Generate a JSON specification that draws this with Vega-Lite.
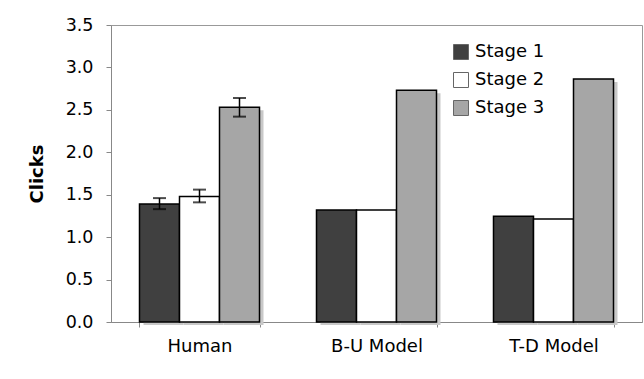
{
  "$schema": "https://vega.github.io/schema/vega-lite/v6.json",
  "width": 531,
  "height": 297,
  "autosize": {"type": "none"},
  "padding": {"left": 111, "top": 25, "right": 2, "bottom": 57},
  "background": "white",
  "config": {
    "font": "DejaVu Sans",
    "view": {"stroke": "#999", "strokeWidth": 1},
    "axis": {"labelColor": "black", "titleColor": "black", "domainColor": "#888", "tickColor": "#888", "grid": false}
  },
  "data": {
    "values": [
      {"group": "Human", "stage": "Stage 1", "value": 1.39, "lo": 1.33, "hi": 1.46},
      {"group": "Human", "stage": "Stage 2", "value": 1.48, "lo": 1.41, "hi": 1.56},
      {"group": "Human", "stage": "Stage 3", "value": 2.53, "lo": 2.42, "hi": 2.64},
      {"group": "B-U Model", "stage": "Stage 1", "value": 1.32},
      {"group": "B-U Model", "stage": "Stage 2", "value": 1.32},
      {"group": "B-U Model", "stage": "Stage 3", "value": 2.73},
      {"group": "T-D Model", "stage": "Stage 1", "value": 1.245},
      {"group": "T-D Model", "stage": "Stage 2", "value": 1.215},
      {"group": "T-D Model", "stage": "Stage 3", "value": 2.865}
    ]
  },
  "resolve": {"scale": {"xOffset": "independent"}},
  "encoding": {
    "x": {
      "field": "group", "type": "nominal", "sort": ["Human", "B-U Model", "T-D Model"],
      "scale": {"paddingInner": 0.322, "paddingOuter": 0.161},
      "axis": {"title": null, "labelAngle": 0, "labelFontSize": 18, "labelPadding": 10, "tickSize": 5, "tickBand": "extent", "domainColor": "#888"}
    }
  },
  "layer": [
    {
      "mark": {"type": "bar", "color": "#c8c8c8", "yOffset": 3},
      "encoding": {
        "xOffset": {"field": "stage", "type": "nominal", "scale": {"domain": ["Stage 1", "Stage 2", "Stage 3"], "range": [4, 124], "paddingInner": 0, "paddingOuter": 0}},
        "y": {"field": "value", "type": "quantitative"}
      }
    },
    {
      "layer": [
        {
          "mark": {"type": "bar", "stroke": "black", "strokeWidth": 1.5},
          "encoding": {
            "y": {
              "field": "value", "type": "quantitative",
              "scale": {"domain": [0, 3.5], "nice": false},
              "axis": {"title": "Clicks", "titleFontSize": 18, "titleFontWeight": "bold", "titlePadding": 19, "values": [0, 0.5, 1, 1.5, 2, 2.5, 3, 3.5], "format": ".1f", "labelFontSize": 17.5, "labelPadding": 13, "tickSize": 5}
            },
            "color": {
              "field": "stage", "type": "nominal",
              "scale": {"domain": ["Stage 1", "Stage 2", "Stage 3"], "range": ["#404040", "#ffffff", "#a6a6a6"]},
              "legend": {
                "title": null, "orient": "none", "legendX": 341, "legendY": 18,
                "symbolType": "square", "symbolSize": 225, "symbolStrokeColor": "#666", "symbolStrokeWidth": 1,
                "symbolOpacity": 1, "labelFontSize": 18, "labelColor": "black", "labelOffset": 5, "rowPadding": 8
              }
            }
          }
        },
        {
          "transform": [{"filter": "isValid(datum.lo)"}],
          "mark": {"type": "rule", "color": "black", "strokeWidth": 1.5},
          "encoding": {
            "y": {"field": "lo", "type": "quantitative"},
            "y2": {"field": "hi"}
          }
        },
        {
          "transform": [{"filter": "isValid(datum.lo)"}],
          "mark": {"type": "tick", "color": "black", "thickness": 2, "size": 13, "orient": "horizontal"},
          "encoding": {
            "y": {"field": "lo", "type": "quantitative"}
          }
        },
        {
          "transform": [{"filter": "isValid(datum.hi)"}],
          "mark": {"type": "tick", "color": "black", "thickness": 2, "size": 13, "orient": "horizontal"},
          "encoding": {
            "y": {"field": "hi", "type": "quantitative"}
          }
        }
      ],
      "encoding": {
        "xOffset": {"field": "stage", "type": "nominal", "scale": {"domain": ["Stage 1", "Stage 2", "Stage 3"], "paddingInner": 0, "paddingOuter": 0}}
      }
    }
  ]
}
